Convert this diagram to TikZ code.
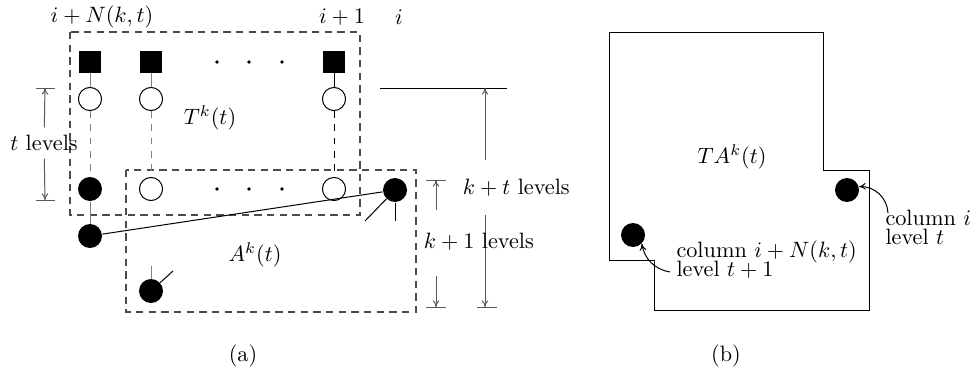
\documentclass[tikz,border=0pt]{standalone}
\usetikzlibrary{arrows.meta}
\begin{document}
\begin{tikzpicture}[x=0.45pt,y=-0.45pt,line width=0.45pt,
    sq/.style={fill=black,minimum size=9.5pt,inner sep=0pt},
    opn/.style={circle,draw,minimum size=10.4pt,inner sep=0pt},
    full/.style={circle,fill=black,minimum size=10.8pt,inner sep=0pt},
    dotsm/.style={circle,fill=black,minimum size=1.6pt,inner sep=0pt},
    box/.style={dash pattern=on 3.3pt off 2.4pt,gray!60!black,line width=0.55pt},
    dim/.style={-{To[length=3pt,width=3pt]},gray!70!black},
    tick/.style={gray!70!black}]
    \useasboundingbox (0,0) rectangle (974,374);

    % (a) die beiden Kaesten
    \draw[box] (70,32) rectangle (360,215);
    \draw[box] (126,170) rectangle (416,312);

    % Spaltenkoepfe
    \node (lN) at (102,17) {$i+N(k,t)$};
    \node (l1) at (342,17) {$i+1$};
    \node (l0) at (399,17) {$i$};

    % Knoten der Spalten
    \foreach \x/\n in {90/a,151/b,334/c} {
        \node[sq] (s\n) at (\x,62) {};
        \node[opn] (o\n) at (\x,99) {};
    }
    \foreach \x in {217,249,282} {
        \node[dotsm] (u\x) at (\x,62) {};
        \node[dotsm] (m\x) at (\x,189) {};
    }
    \node[full] (fa) at (90,189) {};
    \node[opn] (lb) at (151,189) {};
    \node[opn] (lc) at (334,189) {};
    \node[full] (fr) at (395,190) {};
    \node[full] (fd) at (90,236) {};
    \node[full] (fb) at (151,291) {};

    % Verbindungen
    \draw[gray] (sa) -- (oa);
    \draw[gray] (sb) -- (ob);
    \draw (sc) -- (oc);
    \draw[gray,dashed] (oa) -- (fa);
    \draw[gray,dashed] (ob) -- (lb);
    \draw[dashed] (oc) -- (lc);
    \draw[gray] (fa) -- (fd);
    \draw (fd) -- (fr);
    \coordinate (r1) at (365,221);
    \coordinate (r2) at (395,221);
    \draw (fr) -- (r1);
    \draw (fr) -- (r2);
    \coordinate (b1) at (151,266);
    \coordinate (b2) at (173,271);
    \draw[gray] (fb) -- (b1);
    \draw (fb) -- (b2);

    \node (Tk) at (210,118) {$T^k(t)$};
    \node (Ak) at (255,255) {$A^k(t)$};

    % t levels
    \node (tlev) at (44,143) {$t$ levels};
    \coordinate (tt) at (45,88);
    \coordinate (tb) at (45,200);
    \draw[tick] (36,88) -- (55,88);
    \draw[tick] (36,200) -- (55,200);
    \draw[dim] (tlev) -- (tt);
    \draw[dim] (tlev) -- (tb);

    % k+t levels
    \node[anchor=west] (ktlev) at (455,188) {$k+t$ levels};
    \coordinate (kt1) at (485,160);
    \coordinate (kt2) at (485,88);
    \coordinate (kt3) at (485,215);
    \coordinate (kt4) at (485,307);
    \draw (380,88) -- (507,88);
    \draw[tick] (477,307) -- (497,307);
    \draw[dim] (kt1) -- (kt2);
    \draw[dim] (kt3) -- (kt4);

    % k+1 levels
    \node[anchor=west] (k1lev) at (416,242) {$k+1$ levels};
    \coordinate (k11) at (436,210);
    \coordinate (k12) at (436,180);
    \coordinate (k13) at (436,276);
    \coordinate (k14) at (436,307);
    \draw[tick] (426,180) -- (446,180);
    \draw[tick] (426,307) -- (446,307);
    \draw[dim] (k11) -- (k12);
    \draw[dim] (k13) -- (k14);

    % (b)
    \draw (609,32) -- (823,32) -- (823,170) -- (869,170) -- (869,310)
        -- (654,310) -- (654,260) -- (609,260) -- cycle;
    \node (TA) at (732,157) {$TA^k(t)$};
    \node[full] (cr) at (847,190) {};
    \node[full] (cl) at (633,235) {};
    \node[align=left,anchor=north west,inner sep=0pt] (labl) at (676,240)
        {column $i+N(k,t)$\\[-3.5pt] level $t+1$};
    \node[align=left,anchor=north west,inner sep=0pt] (labr) at (885,210)
        {column $i$\\[-3.5pt] level $t$};
    \coordinate (al) at (670,272);
    \coordinate (ar) at (888,213);
    \draw[-{To[length=3pt,width=3pt]}] (al) to[bend left=35] (cl.-45);
    \draw[-{To[length=3pt,width=3pt]}] (ar) to[bend right=45] (cr);

    % Unterschriften
    \node (capa) at (243,356) {(a)};
    \node (capb) at (726,356) {(b)};
\end{tikzpicture}
\end{document}
